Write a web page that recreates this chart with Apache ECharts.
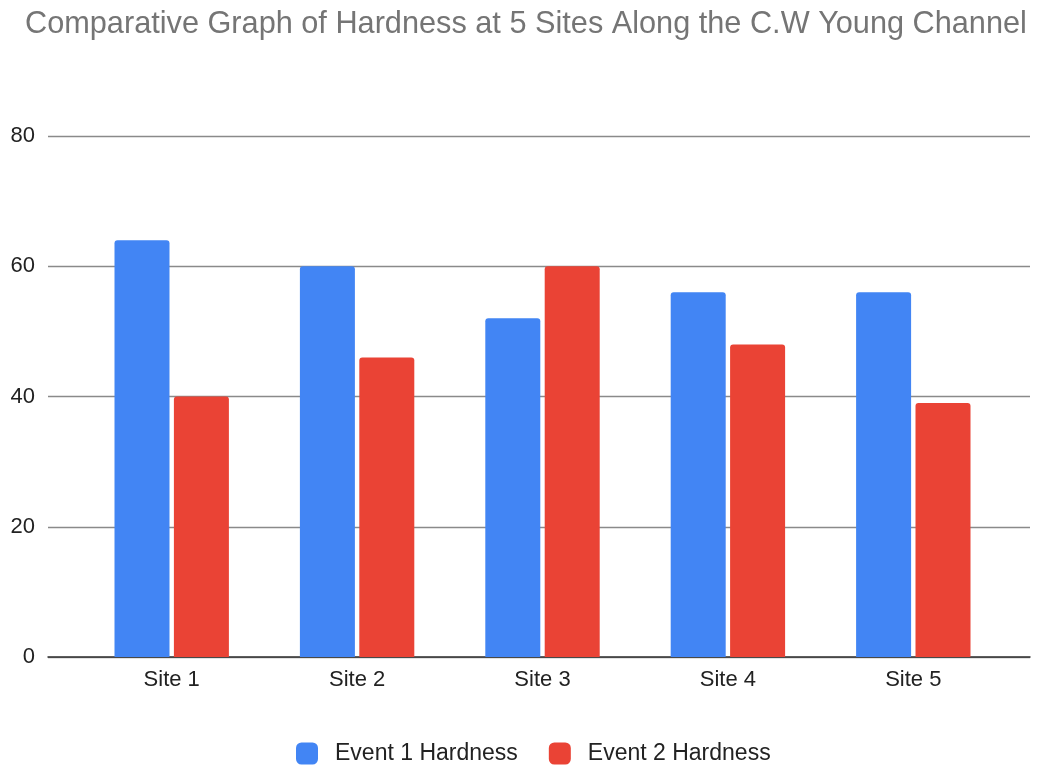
<!DOCTYPE html>
<html>
<head>
<meta charset="utf-8">
<script src="https://cdn.jsdelivr.net/npm/echarts@6/dist/echarts.min.js"></script>
<style>
  html, body { margin: 0; padding: 0; background: #fff; }
  #chart { width: 1039px; height: 767px; }
</style>
</head>
<body>
<div id="chart"></div>
<script>
// Hardness readings per site for the two sampling events
const sites = ['Site 1', 'Site 2', 'Site 3', 'Site 4', 'Site 5'];
const event1Hardness = [64, 60, 52, 56, 56];
const event2Hardness = [40, 46, 60, 48, 39];
const yTicks = [0, 20, 40, 60, 80];

const FONT = '"Liberation Sans", Arial, sans-serif';
const yMin = yTicks[0];
const yMax = yTicks[yTicks.length - 1];
const yStep = yTicks[1] - yTicks[0];

const chart = echarts.init(document.getElementById('chart'), null, { renderer: 'canvas' });

chart.setOption({
  backgroundColor: '#ffffff',
  animation: false,
  title: {
    text: 'Comparative Graph of Hardness at 5 Sites Along the C.W Young Channel',
    left: 20,
    top: 4,
    textStyle: { fontFamily: FONT, fontSize: 30.7, fontWeight: 'normal', color: '#757575' }
  },
  legend: {
    top: 737,
    left: 291,
    itemWidth: 22,
    itemHeight: 22,
    itemGap: 31,
    icon: 'roundRect',
    textStyle: { fontFamily: FONT, fontSize: 23, color: '#222222', padding: [0, 0, 0, 12] },
    data: ['Event 1 Hardness', 'Event 2 Hardness']
  },
  // grid 0 carries the value axis and the full-width gridlines,
  // grid 1 holds the bars with some side padding
  grid: [
    { left: 48, right: 9, top: 136, bottom: 110 },
    { left: 79, right: 33, top: 136, bottom: 110 }
  ],
  xAxis: [
    {
      gridIndex: 0, type: 'value', min: 0, max: 1,
      axisLine: { show: true, lineStyle: { color: '#333333', width: 1.5 } },
      axisTick: { show: false }, axisLabel: { show: false }, splitLine: { show: false }
    },
    {
      gridIndex: 1, type: 'category', data: sites,
      axisLine: { show: false }, axisTick: { show: false },
      axisLabel: { fontFamily: FONT, fontSize: 22, color: '#222222', margin: 12 }
    }
  ],
  yAxis: [
    {
      gridIndex: 0, type: 'value', min: yMin, max: yMax, interval: yStep,
      axisLine: { show: false }, axisTick: { show: false },
      axisLabel: { fontFamily: FONT, fontSize: 22, color: '#222222', margin: 13 },
      splitLine: { lineStyle: { color: '#8a8a8a', width: 1.3 } }
    },
    {
      gridIndex: 1, type: 'value', min: yMin, max: yMax, interval: yStep,
      show: false, splitLine: { show: false }
    }
  ],
  series: [
    {
      name: 'Event 1 Hardness', type: 'bar', xAxisIndex: 1, yAxisIndex: 1,
      data: event1Hardness, barWidth: 55, barGap: '8%',
      itemStyle: { color: '#4285F4', borderRadius: [3, 3, 0, 0] }
    },
    {
      name: 'Event 2 Hardness', type: 'bar', xAxisIndex: 1, yAxisIndex: 1,
      data: event2Hardness, barWidth: 55,
      itemStyle: { color: '#EA4335', borderRadius: [3, 3, 0, 0] }
    }
  ]
});
</script>
</body>
</html>
